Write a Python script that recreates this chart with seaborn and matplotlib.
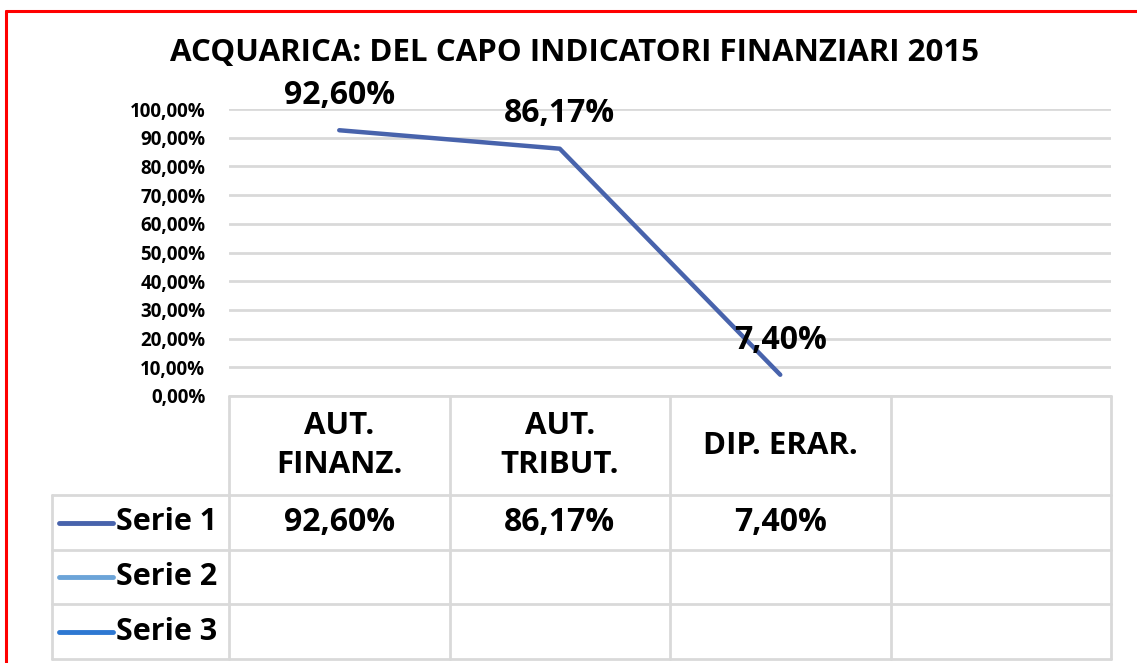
import numpy as np
import pandas as pd
import matplotlib
matplotlib.use("Agg")
import matplotlib.pyplot as plt
import seaborn as sns

# Chart data
title = "ACQUARICA: DEL CAPO INDICATORI FINANZIARI 2015"
categories = ["AUT.\nFINANZ.", "AUT.\nTRIBUT.", "DIP. ERAR.", ""]
serie1 = [92.60, 86.17, 7.40]
series_names = ["Serie 1", "Serie 2", "Serie 3"]
series_colors = ["#4863AC", "#6CA4D8", "#2E78D2"]
yticks = np.arange(0, 101, 10)

W, H = 1137, 663
sns.set_theme(style="white")
plt.rcParams['font.family'] = ['Open Sans', 'DejaVu Sans']
plt.rcParams['font.weight'] = 'bold'
plt.rcParams['text.color'] = 'black'
plt.rcParams['ytick.color'] = 'black'

fig = plt.figure(figsize=(W / 100, H / 100), dpi=100)

# background axes in pixel coordinates (border + data table)
bg = fig.add_axes([0, 0, 1, 1])
bg.set_xlim(0, W)
bg.set_ylim(H, 0)
bg.axis("off")

# plot area
px_left, px_right, px_top, px_bottom = 229, 1111, 109, 396
ax = fig.add_axes([px_left / W, 1 - px_bottom / H,
                   (px_right - px_left) / W, (px_bottom - px_top) / H])
ax.patch.set_alpha(0)

df = pd.DataFrame({"x": np.arange(len(serie1)), "y": serie1})
sns.lineplot(data=df, x="x", y="y", ax=ax, color=series_colors[0],
             linewidth=3.2, solid_capstyle="round")
ax.set_xlim(-0.5, len(categories) - 0.5)
ax.set_ylim(0, 100)
ax.set_yticks(yticks)
ax.set_yticklabels([f"{v:.2f}".replace(".", ",") + "%" for v in yticks],
                   fontsize=13.5, fontweight="bold")
ax.tick_params(axis="y", length=0, pad=17)
ax.set_xticks([])
ax.set_xlabel("")
ax.set_ylabel("")
for s in ax.spines.values():
    s.set_visible(False)
ax.grid(axis="y", color="#D9D9D9", linewidth=2)
ax.set_axisbelow(True)

def fmt(v):
    return f"{v:.2f}".replace(".", ",") + "%"

for i, v in enumerate(serie1):
    ax.annotate(fmt(v), (i, v), xytext=(0, 25), textcoords="offset points",
                ha="center", va="center", fontsize=23, fontweight="bold",
                annotation_clip=False)

fig.text(0.5 + 0.005, 1 - 53 / H, title, ha="center", va="center",
         fontsize=22.5, fontweight="bold")

# data table
grid_c = "#D9D9D9"
col_w = (px_right - px_left) / len(categories)
col_edges = [px_left + i * col_w for i in range(len(categories) + 1)]
leg_left = 52
row_edges = [396, 495, 550, 604, 659]

# header row (no legend cell)
bg.plot([px_left, px_right], [row_edges[0]] * 2, color=grid_c, lw=2)
for y in row_edges[1:]:
    bg.plot([leg_left, px_right], [y] * 2, color=grid_c, lw=2)
for x in col_edges:
    bg.plot([x, x], [row_edges[0], row_edges[-1]], color=grid_c, lw=2)
bg.plot([leg_left, leg_left], [row_edges[1], row_edges[-1]], color=grid_c, lw=2)

for i, cat in enumerate(categories):
    cx = col_edges[i] + col_w / 2
    bg.text(cx, (row_edges[0] + row_edges[1]) / 2, cat, ha="center", va="center",
            fontsize=22.5, fontweight="bold", linespacing=1.38)

for r, name in enumerate(series_names):
    cy = (row_edges[r + 1] + row_edges[r + 2]) / 2
    bg.plot([59, 113], [cy, cy], color=series_colors[r], lw=3.5,
             solid_capstyle="round")
    bg.text(116, cy, name, ha="left", va="center", fontsize=22, fontweight="bold")

for i, v in enumerate(serie1):
    cx = col_edges[i] + col_w / 2
    cy = (row_edges[1] + row_edges[2]) / 2
    bg.text(cx, cy, fmt(v), ha="center", va="center", fontsize=23, fontweight="bold")

# red frame
bg.plot([6, W], [11, 11], color="red", lw=2.2)
bg.plot([6, 6], [11, H], color="red", lw=2.2)

fig.savefig("out.png", dpi=100)
